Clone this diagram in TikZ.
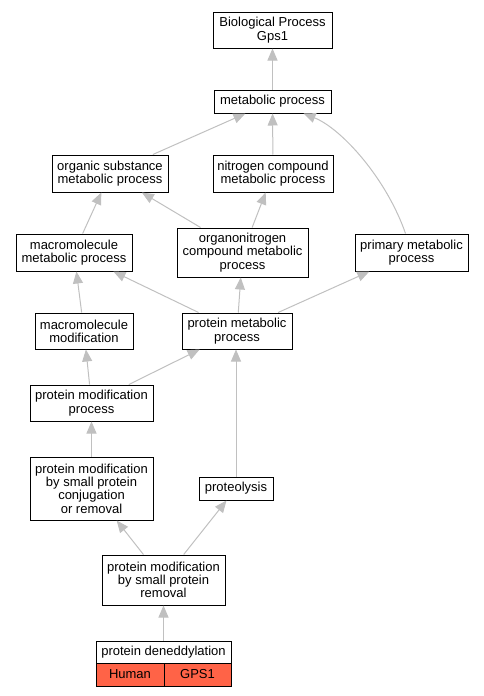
\documentclass[tikz,border=0pt]{standalone}
\usepackage{fontspec}
\setmainfont{Liberation Sans}
\usetikzlibrary{arrows.meta,calc}
\definecolor{edgegray}{HTML}{C0C0C0}
\definecolor{tomatofill}{HTML}{FF6347}
\tikzset{
  term/.style={draw=black, line width=1pt, fill=white, inner sep=0pt, align=center,
    font=\fontsize{13}{13.3}\selectfont},
  arr/.style={draw=edgegray, line width=1pt, -{Triangle[length=12pt,width=10pt]}},
  cell/.style={term, fill=tomatofill}
}
\newcommand{\bx}[6]{% name, x1, y1, x2, y2, text
  \node[term, minimum width={#4-#2}, minimum height={#5-#3}] (#1) at ({(#2+#4)/2},{-(#3+#5)/2}) {#6};}
\begin{document}
\begin{tikzpicture}[x=1pt,y=1pt]
\useasboundingbox (0,0) rectangle (483,-696);
\bx{bp}{213}{12}{332}{48}{Biological Process\\Gps1}
\bx{met}{214}{90}{331}{113}{metabolic process}
\bx{org}{52}{155}{168}{192}{organic substance\\metabolic process}
\bx{nit}{213}{155}{333}{192}{nitrogen compound\\metabolic process}
\bx{macmet}{16}{234}{132}{271}{macromolecule\\metabolic process}
\bx{orgn}{177}{228}{308}{277}{organonitrogen\\compound metabolic\\process}
\bx{prim}{355}{234}{468}{271}{primary metabolic\\process}
\bx{macmod}{35}{313}{133}{349}{macromolecule\\modification}
\bx{prot}{182}{313}{292}{349}{protein metabolic\\process}
\bx{pmp}{30}{385}{153}{421}{protein modification\\process}
\bx{conj}{30}{457}{153}{520}{protein modification\\by small protein\\conjugation\\or removal}
\bx{lys}{199}{477}{273}{500}{proteolysis}
\bx{rem}{102}{555}{225}{605}{protein modification\\by small protein\\removal}
\bx{ned}{96}{641}{231}{663}{protein deneddylation}
\node[cell, minimum width=68, minimum height=23] (hum) at (130,-674.5) {Human};
\node[cell, minimum width=67, minimum height=23] (gps) at (197.5,-674.5) {GPS1};

\draw[arr] (met) -- (bp);
\draw[arr] (org) -- (met);
\draw[arr] (nit) -- (met);
\draw[arr] ($(prim.north)+(-6,0)$) .. controls ($(prim.north)+(-25,55)$) and ($(met.south east)+(10,-15)$) .. ($(met.south east)+(-28,0)$);
\draw[arr] (macmet) -- (org);
\draw[arr] (orgn) -- (org);
\draw[arr] (orgn) -- (nit);
\draw[arr] (macmod) -- (macmet);
\draw[arr] (prot) -- (macmet);
\draw[arr] (prot) -- (orgn);
\draw[arr] (prot) -- (prim);
\draw[arr] (pmp) -- (macmod);
\draw[arr] (pmp) -- (prot);
\draw[arr] (conj) -- (pmp);
\draw[arr] (lys.north) -- (lys.north |- prot.south);
\draw[arr] (rem) -- (conj);
\draw[arr] (rem) -- (lys);
\draw[arr] (ned) -- (rem);
\end{tikzpicture}
\end{document}
